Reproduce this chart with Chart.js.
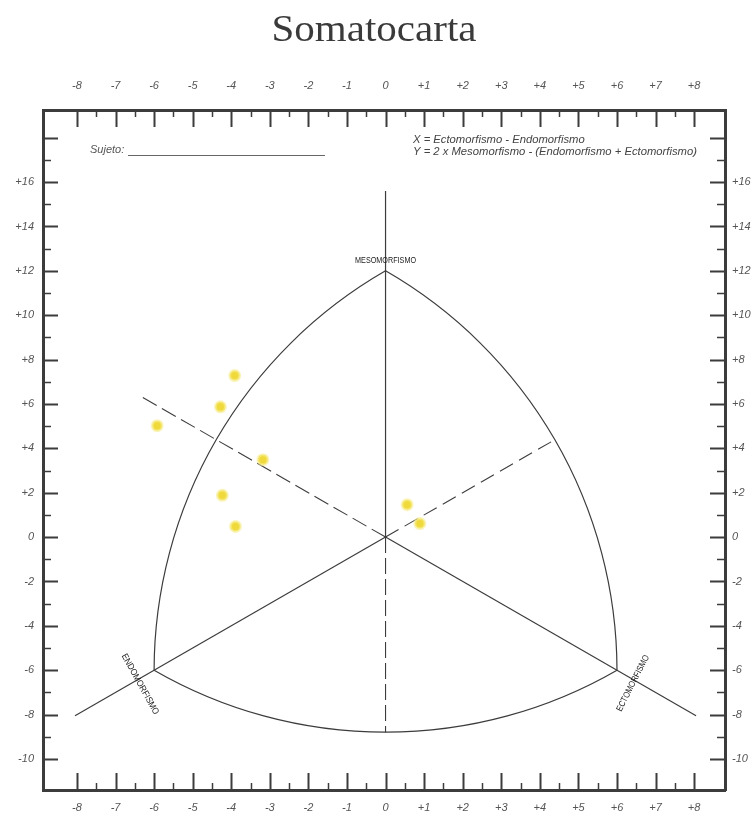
<!DOCTYPE html>
<html><head><meta charset="utf-8">
<script src="https://cdn.jsdelivr.net/npm/chart.js@4.4.1/dist/chart.umd.min.js"></script>
<style>html,body{margin:0;padding:0;background:#fff}#wrap{width:751px;height:820px;position:relative}</style>
</head><body><div id="wrap"><canvas id="c"></canvas></div>
<script>
// ---- text ----
const titleText = 'Somatocarta';
const subjectLabel = 'Sujeto:';
const formulaLines = ['X = Ectomorfismo - Endomorfismo', 'Y = 2 x Mesomorfismo - (Endomorfismo + Ectomorfismo)'];
const vertexNames = ['MESOMORFISMO', 'ENDOMORFISMO', 'ECTOMORFISMO'];

// ---- somatochart template (data units) ----
const mesoVertex = [0, 12];
const endoVertex = [-6, -6];
const ectoVertex = [6, -6];
const verticalTop = 15.6;
const lowerLineEnd = 8.05;
const dashRightEnd = 4.4;
const dashLeftEnd = 6.42;

// ---- axes ----
const X_MIN = -8.88, X_MAX = 8.8;
const Y_MIN = -11.4, Y_MAX = 19.25;
const xTickValues = [-8, -7, -6, -5, -4, -3, -2, -1, 0, 1, 2, 3, 4, 5, 6, 7, 8];
const xTickLabels = ['-8', '-7', '-6', '-5', '-4', '-3', '-2', '-1', '0', '+1', '+2', '+3', '+4', '+5', '+6', '+7', '+8'];
const xMinorMarks = [-7.5, -6.5, -5.5, -4.5, -3.5, -2.5, -1.5, -0.5, 0.5, 1.5, 2.5, 3.5, 4.5, 5.5, 6.5, 7.5];
const yTickValues = [16, 14, 12, 10, 8, 6, 4, 2, 0, -2, -4, -6, -8, -10];
const yTickLabels = ['+16', '+14', '+12', '+10', '+8', '+6', '+4', '+2', '0', '-2', '-4', '-6', '-8', '-10'];
const yMajorMarks = [18, 16, 14, 12, 10, 8, 6, 4, 2, 0, -2, -4, -6, -8, -10];
const yMinorMarks = [17, 15, 13, 11, 9, 7, 5, 3, 1, -1, -3, -5, -7, -9];

// ---- subjects (X, Y) ----
const somaX = [-3.91, -4.28, -5.92, -3.18, -4.23, -3.89, 0.56, 0.89];
const somaY = [7.28, 5.87, 5.02, 3.49, 1.88, 0.48, 1.46, 0.61];

const INK = '#3c3c3c';
const LABEL = '#555';
const tickFont = { family: '"Liberation Sans", Arial, sans-serif', size: 11, style: 'italic' };

function fitText(ctx, text, x, y, font, width, angle, color) {
  ctx.save();
  ctx.font = font;
  ctx.fillStyle = color;
  ctx.textAlign = 'center';
  ctx.textBaseline = 'middle';
  const w = ctx.measureText(text).width;
  ctx.translate(x, y);
  ctx.rotate(angle || 0);
  ctx.scale(width / w, 1);
  ctx.fillText(text, 0, 0);
  ctx.restore();
}
function arcThrough(ctx, P, Q, O) {
  const mx = (P[0] + Q[0]) / 2, my = (P[1] + Q[1]) / 2;
  const dx = Q[0] - P[0], dy = Q[1] - P[1];
  const L = Math.hypot(dx, dy), R = L;
  let nx = -dy / L, ny = dx / L;
  if ((O[0] - mx) * nx + (O[1] - my) * ny < 0) { nx = -nx; ny = -ny; }
  const h = Math.sqrt(R * R - (L / 2) * (L / 2));
  const cx = mx + nx * h, cy = my + ny * h;
  const a1 = Math.atan2(P[1] - cy, P[0] - cx), a2 = Math.atan2(Q[1] - cy, Q[0] - cx);
  let d = a2 - a1;
  while (d > Math.PI) d -= 2 * Math.PI;
  while (d < -Math.PI) d += 2 * Math.PI;
  ctx.beginPath();
  ctx.arc(cx, cy, R, a1, a1 + d, d < 0);
  ctx.stroke();
  return { cx, cy, R };
}

const guidePlugin = {
  id: 'guides',
  beforeDatasetsDraw(chart) {
    const ctx = chart.ctx, sx = chart.scales.x, sy = chart.scales.y;
    const P = (v) => [sx.getPixelForValue(v[0]), sy.getPixelForValue(v[1])];
    const M = P(mesoVertex), En = P(endoVertex), Ec = P(ectoVertex), O = P([0, 0]);
    ctx.save();
    ctx.strokeStyle = INK;
    ctx.lineWidth = 1.2;
    const seg = (a, b, dash) => {
      ctx.setLineDash(dash || []);
      ctx.beginPath(); ctx.moveTo(a[0], a[1]); ctx.lineTo(b[0], b[1]); ctx.stroke();
    };
    ctx.setLineDash([]);
    arcThrough(ctx, En, M, Ec);
    arcThrough(ctx, M, Ec, En);
    const bottom = arcThrough(ctx, En, Ec, M);
    seg(O, P([0, verticalTop]));
    seg(O, P([-lowerLineEnd, -lowerLineEnd]));
    seg(O, P([lowerLineEnd, -lowerLineEnd]));
    const bottomY = bottom.cy + Math.sqrt(bottom.R * bottom.R - (O[0] - bottom.cx) * (O[0] - bottom.cx));
    ctx.lineWidth = 1.1;
    seg(O, [O[0], bottomY], [16, 5]);
    seg(O, P([dashRightEnd, dashRightEnd]), [15, 7]);
    seg(O, P([-dashLeftEnd, dashLeftEnd]), [16, 6]);
    ctx.restore();
    fitText(ctx, vertexNames[0], M[0], M[1] - 10, '9px "Liberation Sans", Arial, sans-serif', 61, 0, '#222');
    fitText(ctx, vertexNames[1], En[0] - 14, En[1] + 14, '9px "Liberation Sans", Arial, sans-serif', 68, 61 * Math.PI / 180, '#222');
    fitText(ctx, vertexNames[2], Ec[0] + 16, Ec[1] + 13, '9px "Liberation Sans", Arial, sans-serif', 62, -63 * Math.PI / 180, '#222');
  },
  afterDraw(chart) {
    const ctx = chart.ctx, a = chart.chartArea, sx = chart.scales.x, sy = chart.scales.y;
    ctx.save();
    ctx.strokeStyle = INK;
    const xmark = (v, len, w) => {
      const x = Math.round(sx.getPixelForValue(v)) + 0.5;
      ctx.lineWidth = w;
      ctx.beginPath();
      ctx.moveTo(x, a.top); ctx.lineTo(x, a.top + len);
      ctx.moveTo(x, a.bottom); ctx.lineTo(x, a.bottom - len);
      ctx.stroke();
    };
    xTickValues.forEach(v => xmark(v, 17, 2));
    xMinorMarks.forEach(v => xmark(v, 7, 1.5));
    const ymark = (v, len, w) => {
      const y = Math.round(sy.getPixelForValue(v)) + 0.5;
      ctx.lineWidth = w;
      ctx.beginPath();
      ctx.moveTo(a.left, y); ctx.lineTo(a.left + len, y);
      ctx.moveTo(a.right, y); ctx.lineTo(a.right - len, y);
      ctx.stroke();
    };
    yMajorMarks.forEach(v => ymark(v, 15, 2));
    yMinorMarks.forEach(v => ymark(v, 8, 1.5));
    ctx.restore();
    fitText(ctx, titleText, 374, 31, '38px "Liberation Serif", "DejaVu Serif", serif', 205, 0, '#3a3a3a');
    ctx.save();
    ctx.font = 'italic 11px "Liberation Sans", Arial, sans-serif';
    ctx.fillStyle = '#555';
    ctx.textAlign = 'left';
    ctx.textBaseline = 'middle';
    ctx.fillText(subjectLabel, 90, 150);
    ctx.strokeStyle = '#666';
    ctx.lineWidth = 1;
    ctx.beginPath(); ctx.moveTo(128, 155.5); ctx.lineTo(325, 155.5); ctx.stroke();
    ctx.restore();
    // formulas: same horizontal squeeze for both lines
    ctx.save();
    ctx.font = 'italic 11px "Liberation Sans", Arial, sans-serif';
    const k = 284 / ctx.measureText(formulaLines[1]).width;
    ctx.restore();
    formulaLines.forEach((t, i) => {
      ctx.save();
      ctx.font = 'italic 11px "Liberation Sans", Arial, sans-serif';
      ctx.fillStyle = '#444';
      ctx.textAlign = 'left';
      ctx.textBaseline = 'middle';
      ctx.translate(413, 140 + i * 12);
      ctx.scale(k, 1);
      ctx.fillText(t, 0, 0);
      ctx.restore();
    });
  }
};

function xAxis(pos, h, pad) {
  return {
    type: 'linear', position: pos, min: X_MIN, max: X_MAX,
    afterBuildTicks: s => { s.ticks = xTickValues.map(v => ({ value: v })); },
    afterFit: s => { s.height = h; },
    ticks: { callback: (v, i) => xTickLabels[i], font: tickFont, color: LABEL, padding: pad, maxRotation: 0, autoSkip: false },
    grid: { display: false, drawTicks: false },
    border: { display: true, width: 3, color: INK }
  };
}
function yAxis(pos, w, pad) {
  return {
    type: 'linear', position: pos, min: Y_MIN, max: Y_MAX,
    afterBuildTicks: s => { s.ticks = yTickValues.map(v => ({ value: v })); },
    afterFit: s => { s.width = w; },
    ticks: { callback: (v, i) => yTickLabels[i], font: tickFont, color: LABEL, padding: pad, autoSkip: false },
    grid: { display: false, drawTicks: false },
    border: { display: true, width: 3, color: INK }
  };
}

new Chart(document.getElementById('c'), {
  type: 'scatter',
  data: {
    datasets: [{
      label: 'Sujetos',
      data: somaX.map((x, i) => ({ x, y: somaY[i] })),
      pointRadius: 5,
      pointHoverRadius: 5,
      backgroundColor: '#f0d93a',
      borderColor: 'rgba(246,236,140,0.6)',
      borderWidth: 3
    }]
  },
  options: {
    responsive: true,
    maintainAspectRatio: false,
    animation: false,
    layout: { padding: 0 },
    plugins: { legend: { display: false }, title: { display: false }, tooltip: { enabled: false } },
    scales: {
      x: xAxis('bottom', 30, 11),
      x2: xAxis('top', 110, 17),
      y: yAxis('left', 43, 9),
      y2: yAxis('right', 26, 7)
    }
  },
  plugins: [guidePlugin]
});
</script>
</body></html>
